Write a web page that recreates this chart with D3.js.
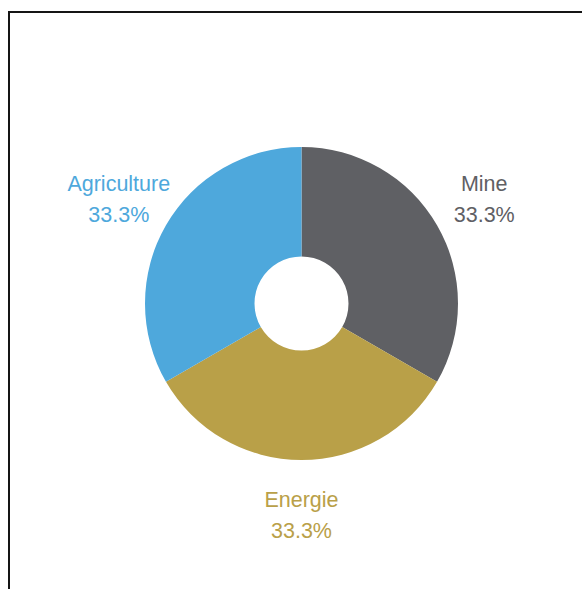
<!DOCTYPE html>
<html>
<head>
<meta charset="utf-8">
<script src="https://cdn.jsdelivr.net/npm/d3@7"></script>
<style>
html,body{margin:0;padding:0;background:#fff;}
svg{display:block;}
</style>
</head>
<body>
<svg id="chart" width="582" height="589"></svg>
<script>
const categories = ["Mine", "Energie", "Agriculture"];
const values = [33.3, 33.3, 33.3];
const colors = ["#5f6064", "#b9a048", "#4ea8dc"];
const labelColors = ["#5f6064", "#b9a048", "#4ea8dc"];

const svg = d3.select("#chart");
const W = 582, H = 589;

// frame (top and left border only)
svg.append("path")
  .attr("d", `M9,${H} V12 H${W}`)
  .attr("fill", "none")
  .attr("stroke", "#151515")
  .attr("stroke-width", 2);

const cx = 301.5, cy = 303.5;
const outerR = 156.5, innerR = 47, labelR = 211;

const data = categories.map((c, i) => ({cat: c, value: values[i], color: colors[i], lc: labelColors[i]}));

const pie = d3.pie().value(d => d.value).sort(null);
const arcs = pie(data);
const arc = d3.arc().innerRadius(innerR).outerRadius(outerR);
const labelArc = d3.arc().innerRadius(labelR).outerRadius(labelR);

const g = svg.append("g").attr("transform", `translate(${cx},${cy})`);

g.selectAll("path.slice")
  .data(arcs)
  .enter().append("path")
  .attr("class", "slice")
  .attr("d", arc)
  .attr("fill", d => d.data.color);

const fmt = v => v.toFixed(1) + "%";
const lineGap = 31;

const lab = g.selectAll("g.label")
  .data(arcs)
  .enter().append("g")
  .attr("class", "label")
  .attr("transform", d => {
    const [x, y] = labelArc.centroid(d);
    return `translate(${x},${y})`;
  });

lab.append("text")
  .attr("text-anchor", "middle")
  .attr("y", -lineGap / 2 + 8)
  .attr("font-family", "'Liberation Sans', Arial, Helvetica, sans-serif")
  .attr("font-size", 21.5)
  .attr("fill", d => d.data.lc)
  .text(d => d.data.cat);

lab.append("text")
  .attr("text-anchor", "middle")
  .attr("y", lineGap / 2 + 8)
  .attr("font-family", "'Liberation Sans', Arial, Helvetica, sans-serif")
  .attr("font-size", 21.5)
  .attr("fill", d => d.data.lc)
  .text(d => fmt(d.data.value));
</script>
</body>
</html>
